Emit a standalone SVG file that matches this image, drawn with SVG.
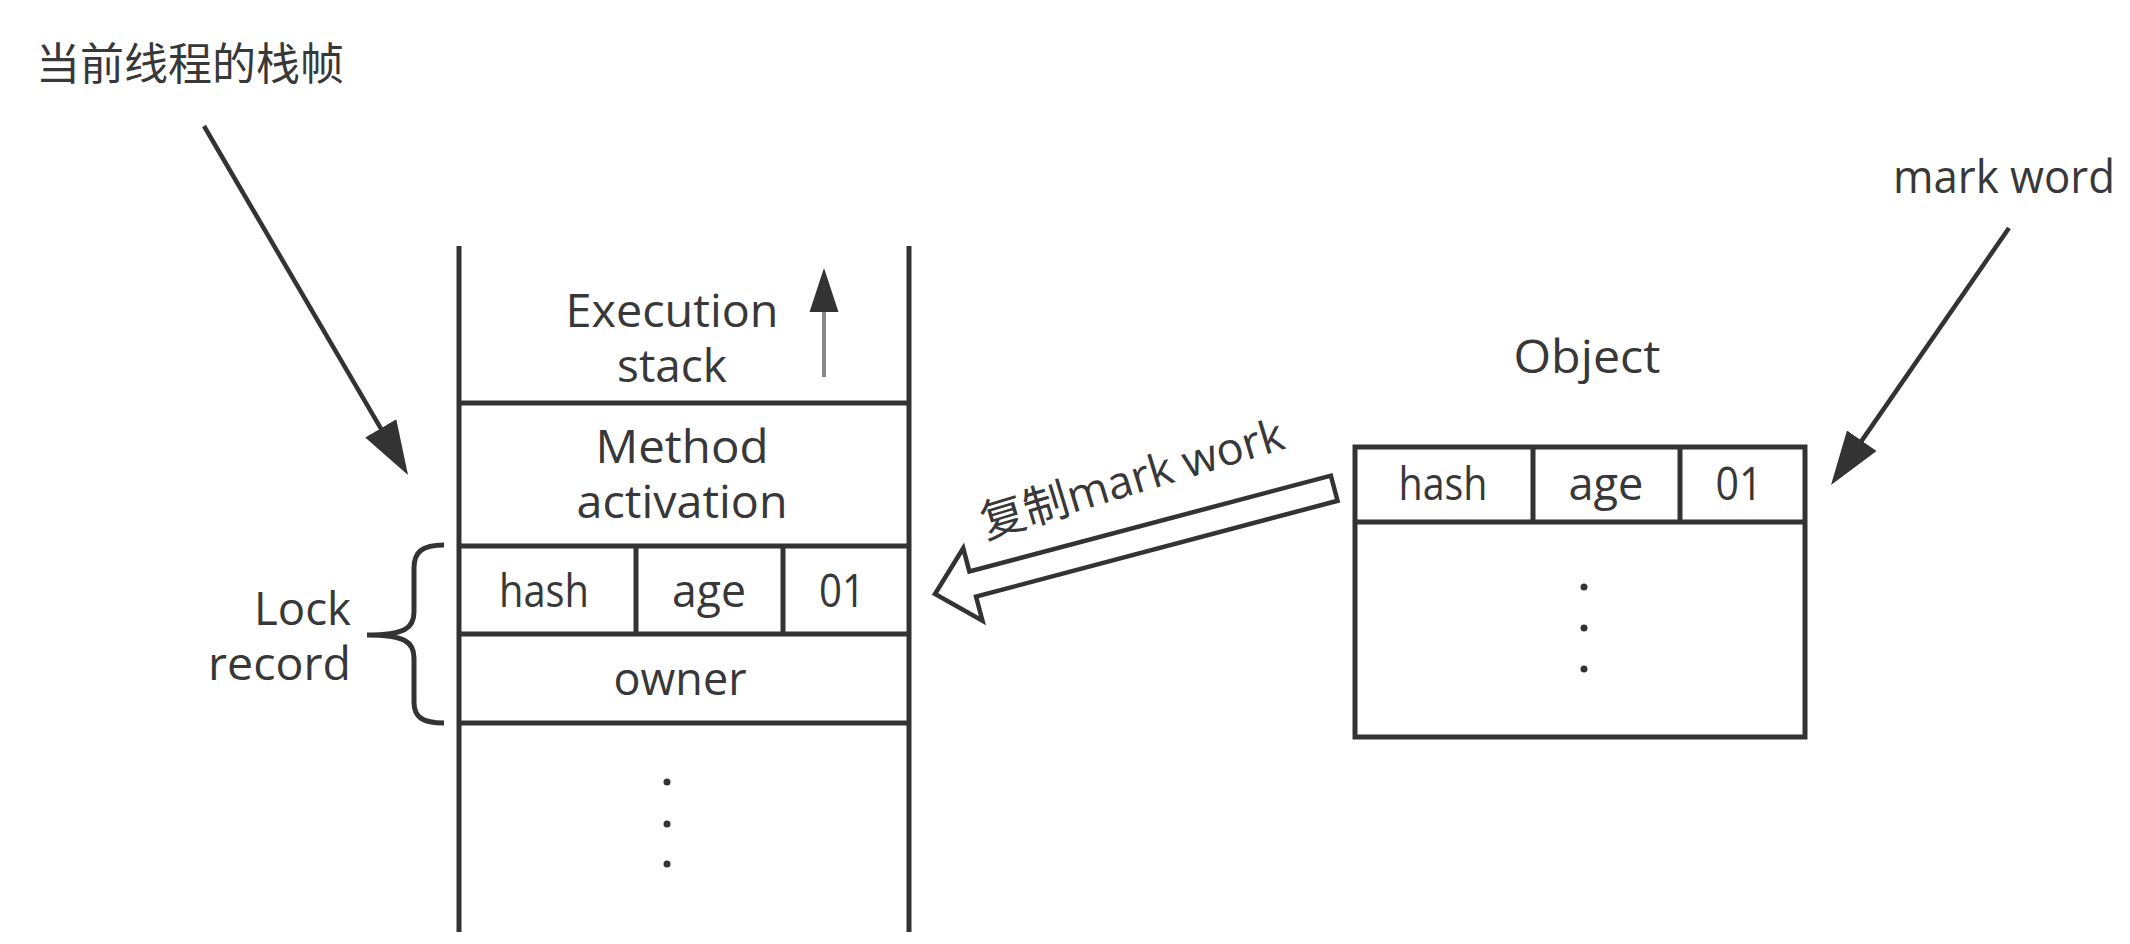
<svg xmlns="http://www.w3.org/2000/svg" width="2130" height="944" viewBox="0 0 2130 944">
<style>
  .t { font-family: "Open Sans", "Noto Sans CJK SC", sans-serif; font-size: 45px; fill: #383838; }
  .cj { font-family: "Noto Sans CJK SC", sans-serif; font-size: 44px; fill: #383838; }
  .c { text-anchor: middle; }
  .e { text-anchor: end; }
  .ln { stroke: #333; stroke-width: 5; fill: none; }
  .box { stroke: #333; stroke-width: 5; fill: #fff; }
  .arr { stroke: #333; stroke-width: 4.5; fill: none; }
  .dot { fill: #333; }
</style>
<defs>
  <marker id="ah" markerUnits="userSpaceOnUse" markerWidth="56" markerHeight="40" refX="34" refY="20" orient="auto">
    <path d="M0,2 L54,20 L0,38 z" fill="#333"/>
  </marker>
  <marker id="up" markerUnits="userSpaceOnUse" markerWidth="46" markerHeight="30" refX="22" refY="15" orient="auto">
    <path d="M0,0.5 L44,15 L0,29.5 z" fill="#333"/>
  </marker>
</defs>
<rect width="2130" height="944" fill="#fff"/>

<g id="frame-label">
  <text class="cj" x="36" y="80">当前线程的栈帧</text>
</g>

<g id="stack">
  <line class="ln" x1="459" y1="246" x2="459" y2="932"/>
  <line class="ln" x1="909" y1="246" x2="909" y2="932"/>
  <line class="ln" x1="459" y1="403" x2="909" y2="403"/>
  <line class="ln" x1="459" y1="546" x2="909" y2="546"/>
  <line class="ln" x1="459" y1="634" x2="909" y2="634"/>
  <line class="ln" x1="459" y1="723" x2="909" y2="723"/>
  <line class="ln" x1="636" y1="546" x2="636" y2="634"/>
  <line class="ln" x1="783" y1="546" x2="783" y2="634"/>
  <text class="t c" x="672" y="327" textLength="213" lengthAdjust="spacingAndGlyphs">Execution</text>
  <text class="t c" x="672" y="382" textLength="110" lengthAdjust="spacingAndGlyphs">stack</text>
  <line x1="824" y1="377" x2="824" y2="290" stroke="#888" stroke-width="4" marker-end="url(#up)"/>
  <text class="t c" x="682" y="463" textLength="173" lengthAdjust="spacingAndGlyphs">Method</text>
  <text class="t c" x="682" y="518" textLength="211" lengthAdjust="spacingAndGlyphs">activation</text>
  <text class="t c" x="544" y="607" textLength="90" lengthAdjust="spacingAndGlyphs">hash</text>
  <text class="t c" x="709" y="607" textLength="74" lengthAdjust="spacingAndGlyphs">age</text>
  <text class="t c" x="842" y="607" textLength="46" lengthAdjust="spacingAndGlyphs">01</text>
  <text class="t c" x="680" y="695" textLength="133" lengthAdjust="spacingAndGlyphs">owner</text>
  <circle class="dot" cx="667" cy="782" r="3.5"/>
  <circle class="dot" cx="667" cy="824" r="3.5"/>
  <circle class="dot" cx="667" cy="864" r="3.5"/>
</g>

<g id="lock-record">
  <path class="ln" d="M444,545 C422,545 414,552 414,568 L414,612 C414,628 405,635 367,635 C405,635 414,642 414,658 L414,702 C414,717 422,723 444,723"/>
  <text class="t e" x="351" y="625" textLength="97" lengthAdjust="spacingAndGlyphs">Lock</text>
  <text class="t e" x="351" y="680" textLength="143" lengthAdjust="spacingAndGlyphs">record</text>
</g>

<g id="object">
  <text class="t c" x="1587" y="373" textLength="147" lengthAdjust="spacingAndGlyphs">Object</text>
  <rect class="box" x="1355" y="447" width="450" height="290"/>
  <line class="ln" x1="1355" y1="522" x2="1805" y2="522"/>
  <line class="ln" x1="1533" y1="447" x2="1533" y2="522"/>
  <line class="ln" x1="1680" y1="447" x2="1680" y2="522"/>
  <text class="t c" x="1443" y="500" textLength="89" lengthAdjust="spacingAndGlyphs">hash</text>
  <text class="t c" x="1606" y="500" textLength="75" lengthAdjust="spacingAndGlyphs">age</text>
  <text class="t c" x="1739" y="500" textLength="47" lengthAdjust="spacingAndGlyphs">01</text>
  <circle class="dot" cx="1584" cy="587" r="3.5"/>
  <circle class="dot" cx="1584" cy="628" r="3.5"/>
  <circle class="dot" cx="1584" cy="669" r="3.5"/>
</g>

<g id="mark-word-label">
  <text class="t" x="1893" y="193" textLength="222" lengthAdjust="spacingAndGlyphs">mark word</text>
</g>

<g id="connectors">
  <line class="arr" x1="204" y1="126" x2="397.9" y2="457.7" marker-end="url(#ah)"/>
  <line class="arr" x1="2009" y1="228" x2="1842.4" y2="468.6" marker-end="url(#ah)"/>
  <g transform="translate(935,594) rotate(-14.84)">
    <path d="M0,0 L39,-37 L39,-13 L413,-13 L413,13 L39,13 L39,38 Z" fill="#fff" stroke="#333" stroke-width="4.5" stroke-linejoin="miter"/>
  </g>
  <text class="t" x="986" y="539" transform="rotate(-16.8 986 539)" font-size="44">复制mark work</text>
</g>
</svg>
